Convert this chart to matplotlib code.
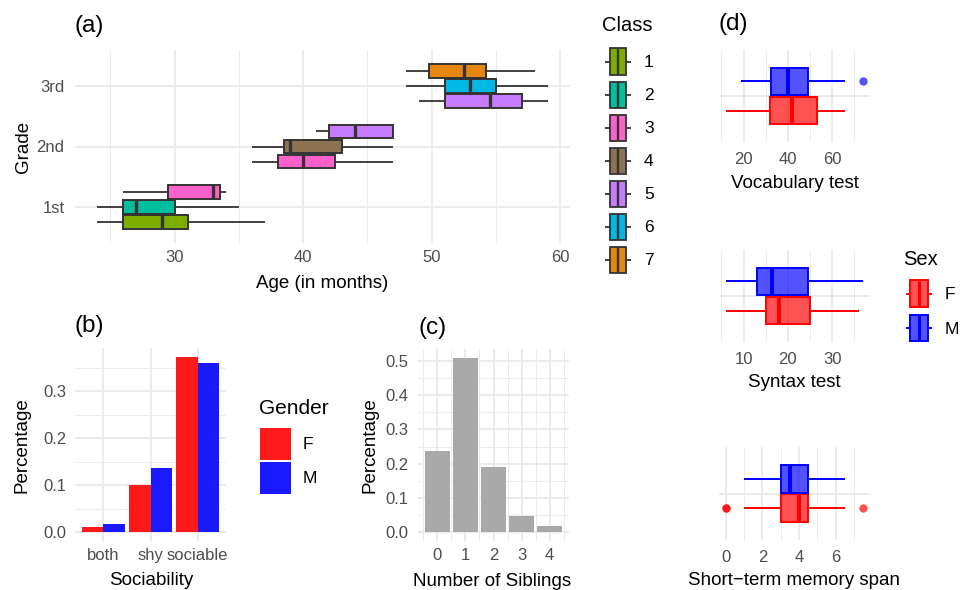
import numpy as np
import matplotlib
matplotlib.use("Agg")
import matplotlib.pyplot as plt
from matplotlib.patches import Patch, Rectangle
from matplotlib.lines import Line2D
from matplotlib.legend_handler import HandlerBase
from matplotlib.ticker import FixedLocator

plt.rcParams['font.family'] = ['Liberation Sans', 'DejaVu Sans']
plt.rcParams['lines.solid_capstyle'] = 'butt'

# ---- (a) age by grade and class ----
grades = ['1st', '2nd', '3rd']
classes = ['1', '2', '3', '4', '5', '6', '7']
class_colors = ['#7CAE00', '#00BF9C', '#FF61CC', '#8C7352',
                '#C77CFF', '#00B8E5', '#E6850F']
box_grade = [1, 1, 1, 2, 2, 2, 3, 3, 3]
box_class = [1, 2, 3, 3, 4, 5, 5, 6, 7]
age_lo = [24, 24, 26, 36, 36, 41, 49, 48, 48]
age_q1 = [26, 26, 29.5, 38, 38.5, 42, 51, 51, 49.75]
age_med = [29, 27, 33, 40, 39, 44, 54.5, 53, 52.5]
age_q3 = [31, 30, 33.5, 42.5, 43, 47, 57, 55, 54.25]
age_hi = [37, 35, 34, 47, 47, 47, 59, 59, 58]

# ---- (b) sociability by gender ----
sociability = ['both', 'shy', 'sociable']
soc_f = [0.012, 0.100, 0.373]
soc_m = [0.018, 0.137, 0.360]

# ---- (c) number of siblings ----
siblings = [0, 1, 2, 3, 4]
sib_pct = [0.238, 0.509, 0.190, 0.048, 0.019]

# ---- (d) tests by sex (lo, q1, med, q3, hi) ----
sexes = ['F', 'M']
vocab_f = [12, 32, 42, 53, 66]
vocab_m = [19, 32.5, 40, 49, 66]
vocab_out_f = []
vocab_out_m = [74]
syntax_f = [6, 15, 18, 25, 36]
syntax_m = [6, 13, 16.5, 24.5, 37]
syntax_out_f = []
syntax_out_m = []
memory_f = [1, 3, 4, 4.5, 6.5]
memory_m = [1, 3, 3.5, 4.5, 6.5]
memory_out_f = [0, 0, 7.5]
memory_out_m = []

W, H = 960, 590
GRID = '#EBEBEB'
TICKC = '#4D4D4D'
TICK_FS = 12
LAB_FS = 13.5
TITLE_FS = 17.5
LEG_FS = 12.5
LEGT_FS = 14.5

fig = plt.figure(figsize=(W / 100, H / 100), dpi=100)


def px_axes(l, t, r, b):
    return fig.add_axes([l / W, 1 - b / H, (r - l) / W, (b - t) / H])


def style(ax, xpad=5, ypad=6.5, ygrid_minor=True):
    for s in ax.spines.values():
        s.set_visible(False)
    ax.tick_params(which='both', length=0, labelsize=TICK_FS, labelcolor=TICKC)
    ax.tick_params(axis='x', pad=xpad)
    ax.tick_params(axis='y', pad=ypad)
    ax.grid(True, which='major', color=GRID, lw=1.4)
    ax.grid(True, which='minor', axis='both' if ygrid_minor else 'x',
            color=GRID, lw=0.7)
    ax.set_axisbelow(True)


def xlab(text, cx, base):
    fig.text(cx / W, 1 - base / H, text, ha='center', va='baseline', fontsize=LAB_FS)


def ylab(text, bx, cy):
    fig.text(bx / W, 1 - cy / H, text, rotation=90, rotation_mode='anchor',
             ha='center', va='baseline', fontsize=LAB_FS)


def title(text, lx, base):
    fig.text(lx / W, 1 - base / H, text, ha='left', va='baseline', fontsize=TITLE_FS)


def expand(lo, hi, f=0.05):
    d = (hi - lo) * f
    return lo - d, hi + d


def five(v, out=()):
    return dict(whislo=v[0], q1=v[1], med=v[2], q3=v[3], whishi=v[4], fliers=list(out))


class BoxKey(HandlerBase):
    def __init__(self, frac, lw, mlw):
        super().__init__()
        self.frac, self.lw, self.mlw = frac, lw, mlw

    def create_artists(self, legend, orig_handle, xdescent, ydescent,
                       width, height, fontsize, trans):
        fc = orig_handle.get_facecolor()
        ec = orig_handle.get_edgecolor()
        bw = width * self.frac
        x0 = -xdescent + (width - bw) / 2
        y0 = -ydescent
        ym = y0 + height / 2
        wl = Line2D([-xdescent, x0], [ym, ym], color=ec, lw=self.lw, transform=trans)
        wr = Line2D([x0 + bw, -xdescent + width], [ym, ym], color=ec, lw=self.lw,
                    transform=trans)
        rect = Rectangle((x0, y0), bw, height, facecolor=fc, edgecolor=ec,
                         lw=self.lw, transform=trans)
        med = Line2D([x0 + bw / 2] * 2, [y0, y0 + height], color=ec, lw=self.mlw,
                     transform=trans)
        return [wl, wr, rect, med]


# ================= (a) =================
ax = px_axes(75, 50, 570, 243)
style(ax, xpad=5, ypad=7.5, ygrid_minor=False)
for i in range(len(box_grade)):
    same = [j for j in range(len(box_grade)) if box_grade[j] == box_grade[i]]
    rank = same.index(i)
    pos = box_grade[i] + (rank - (len(same) - 1) / 2) * 0.25
    col = class_colors[box_class[i] - 1]
    ax.bxp([five([age_lo[i], age_q1[i], age_med[i], age_q3[i], age_hi[i]])],
           positions=[pos], widths=0.225, orientation='horizontal',
           patch_artist=True, showcaps=False, showfliers=False,
           boxprops=dict(facecolor=col, edgecolor='#333333', lw=1.4),
           medianprops=dict(color='#333333', lw=2.4),
           whiskerprops=dict(color='#333333', lw=1.3), manage_ticks=False)
ax.set_xlim(*expand(min(age_lo), max(age_hi)))
ax.set_ylim(0.4, 3.6)
ax.set_xticks([30, 40, 50, 60])
ax.xaxis.set_minor_locator(FixedLocator([25, 35, 45, 55]))
ax.set_yticks([1, 2, 3])
ax.set_yticklabels(grades)
title('(a)', 75, 32)
xlab('Age (in months)', 322, 288)
ylab('Grade', 28, 147)

# legend box sizes in px: whiskers 26 wide, box 25.5 tall, rows 33.3 apart
fs_px = LEG_FS * 100 / 72
class_handles = [Patch(facecolor=c, edgecolor='#333333') for c in class_colors]
fig.legend(class_handles, classes, loc='upper left',
           bbox_to_anchor=(605 / W, 1 - 48.5 / H), frameon=False,
           fontsize=LEG_FS, handlelength=26 / fs_px, handleheight=1.95,
           labelspacing=0.39, handletextpad=0.75, borderpad=0, borderaxespad=0,
           handler_map={Patch: BoxKey(0.65, 1.3, 1.7)})
fig.text(602 / W, 1 - 31 / H, 'Class', fontsize=LEGT_FS, va='baseline')

# ================= (b) =================
ax = px_axes(75, 348, 226, 541)
style(ax, xpad=5, ypad=6)
xb = np.arange(1, len(sociability) + 1)
ax.bar(xb - 0.225, soc_f, width=0.45, color='#FF1A1A')
ax.bar(xb + 0.225, soc_m, width=0.45, color='#1A1AFF')
ax.set_xlim(0.4, len(sociability) + 0.6)
ax.set_ylim(*expand(0, max(soc_f + soc_m)))
ax.set_xticks(xb)
ax.set_xticklabels(sociability)
ax.set_yticks([0, 0.1, 0.2, 0.3])
ax.set_yticklabels(['0.0', '0.1', '0.2', '0.3'])
ax.yaxis.set_minor_locator(FixedLocator([0.05, 0.15, 0.25, 0.35]))
ax.xaxis.set_minor_locator(FixedLocator([]))
title('(b)', 75, 332)
xlab('Sociability', 151, 585)
ylab('Percentage', 27, 445)

gender_handles = [Patch(facecolor='#FF1A1A'), Patch(facecolor='#1A1AFF')]
fig.legend(gender_handles, sexes, loc='upper left',
           bbox_to_anchor=(259.5 / W, 1 - 428 / H), frameon=False,
           fontsize=LEG_FS, handlelength=31 / fs_px, handleheight=2.48,
           labelspacing=0.1, handletextpad=0.7, borderpad=0, borderaxespad=0)
fig.text(259 / W, 1 - 414.5 / H, 'Gender', fontsize=LEGT_FS + 0.5, va='baseline')

# ================= (c) =================
ax = px_axes(418, 349, 569, 541)
style(ax, xpad=5, ypad=7)
ax.bar(siblings, sib_pct, width=0.9, color='#A9A9A9')
ax.set_xlim(*expand(min(siblings) - 0.45, max(siblings) + 0.45))
ax.set_ylim(*expand(0, max(sib_pct)))
ax.set_xticks(siblings)
ax.set_yticks([0, 0.1, 0.2, 0.3, 0.4, 0.5])
ax.set_yticklabels(['0.0', '0.1', '0.2', '0.3', '0.4', '0.5'])
ax.xaxis.set_minor_locator(FixedLocator(np.array(siblings[:] + [5]) - 0.5))
ax.yaxis.set_minor_locator(FixedLocator([0.05, 0.15, 0.25, 0.35, 0.45]))
title('(c)', 418, 334)
xlab('Number of Siblings', 492, 586)
ylab('Percentage', 375, 445)

# ================= (d) =================
sex_colors = {'F': '#FF0000', 'M': '#0000FF'}
sex_fill = {'F': (1, 0, 0, 0.68), 'M': (0, 0, 1, 0.68)}
tests = [
    ('Vocabulary test', vocab_f, vocab_m, vocab_out_f, vocab_out_m,
     [20, 40, 60], [10, 30, 50, 70], (50, 142), 188.5),
    ('Syntax test', syntax_f, syntax_m, syntax_out_f, syntax_out_m,
     [10, 20, 30], [5, 15, 25, 35], (250, 342), 387),
    ('Short\u2212term memory span', memory_f, memory_m, memory_out_f, memory_out_m,
     [0, 2, 4, 6], [1, 3, 5, 7], (447, 540), 585),
]
for k, (name, vf, vm, of, om, maj, mnr, (t, b), base) in enumerate(tests):
    ax = px_axes(719, t, 870, b)
    style(ax, xpad=7)
    for sex, v, o, pos in [('F', vf, of, 0.81), ('M', vm, om, 1.19)]:
        c = sex_colors[sex]
        ax.bxp([five(v, o)], positions=[pos], widths=0.36, orientation='horizontal',
               patch_artist=True, showcaps=False,
               boxprops=dict(facecolor=sex_fill[sex], edgecolor=c, lw=1.4),
               medianprops=dict(color=c, lw=2.9),
               whiskerprops=dict(color=c, lw=1.4),
               flierprops=dict(marker='o', markersize=6, markeredgecolor='none',
                               markerfacecolor=sex_fill[sex]),
               manage_ticks=False)
    allv = vf + vm + of + om
    ax.set_xlim(*expand(min(allv), max(allv)))
    ax.set_ylim(0.4, 1.6)
    ax.set_xticks(maj)
    ax.xaxis.set_minor_locator(FixedLocator(mnr))
    ax.set_yticks([1])
    ax.set_yticklabels([])
    xlab(name, 794.5, base)
    if k == 0:
        title('(d)', 719, 30)

sex_handles = [Patch(facecolor=sex_fill[s], edgecolor=sex_colors[s]) for s in sexes]
fig.legend(sex_handles, sexes, loc='upper left',
           bbox_to_anchor=(905.5 / W, 1 - 280.5 / H), frameon=False,
           fontsize=LEG_FS, handlelength=26.6 / fs_px, handleheight=2.0,
           labelspacing=0.42, handletextpad=0.75, borderpad=0, borderaxespad=0,
           handler_map={Patch: BoxKey(0.68, 1.4, 2.2)})
fig.text(903 / W, 1 - 265 / H, 'Sex', fontsize=LEGT_FS, va='baseline')

fig.savefig('out.png', dpi=100)
